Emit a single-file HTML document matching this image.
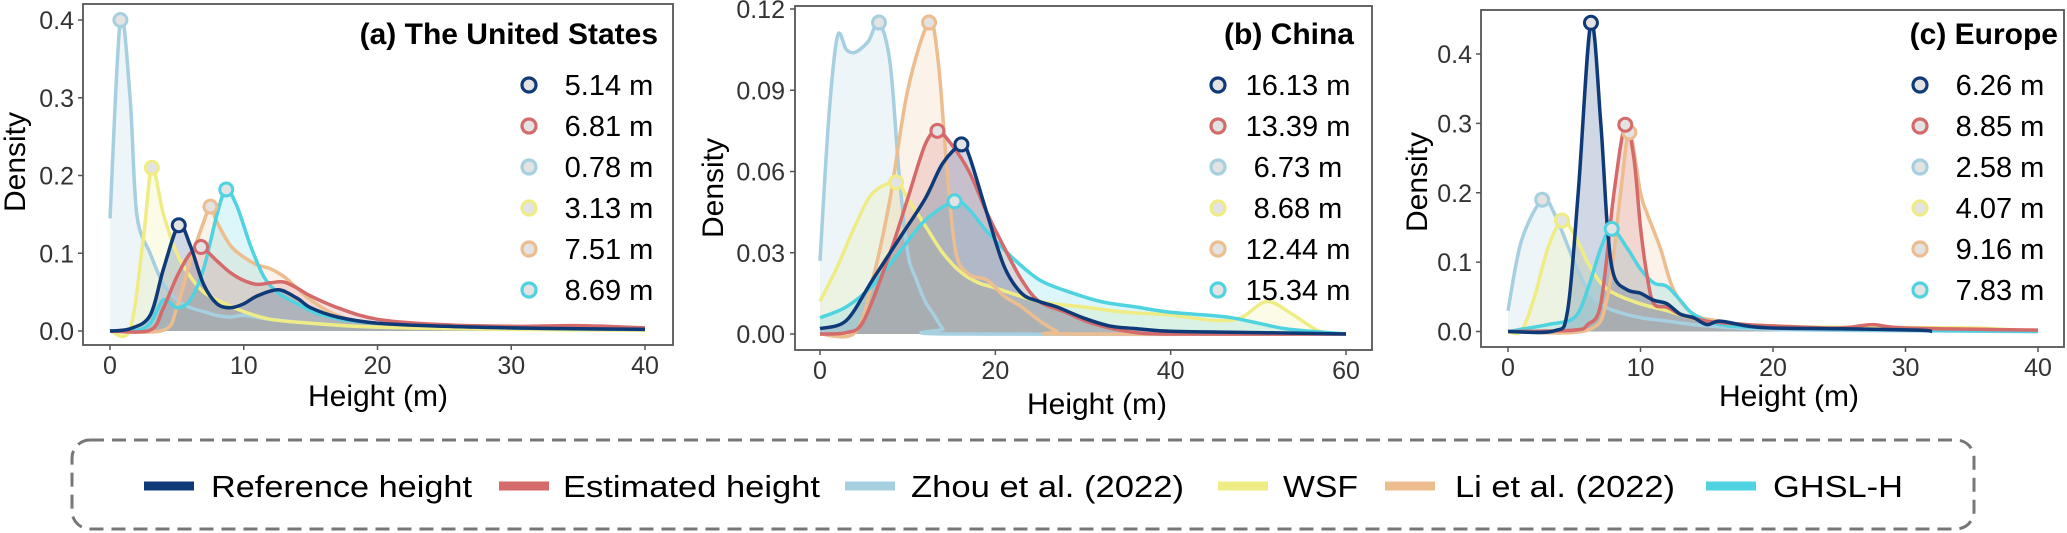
<!DOCTYPE html>
<html><head><meta charset="utf-8"><style>
html,body{margin:0;padding:0;background:#fff;}
svg{display:block;font-family:"Liberation Sans",Arial,sans-serif;}
</style></head><body>
<svg id="chart" width="2067" height="533" viewBox="0 0 2067 533" xmlns="http://www.w3.org/2000/svg"></svg>
<script>
// ---------- data ----------
const seriesNames = ["Reference height","Estimated height","Zhou et al. (2022)","WSF","Li et al. (2022)","GHSL-H"];
const seriesKeys = ["ref","est","zhou","wsf","li","ghsl"];
const seriesColors = ["#0f3a78","#d46a6a","#a6cfe0","#efec86","#ecbd8f","#4fd3e0"];

// Panel a: United States
const usX = {
  ref:[0,1.5,3,4,5.14,6,7,8,9,10,11,12.6,14,15,17,20,25,30,35,40],
  est:[0,3,4,5,6,6.81,8,9,10,11,12,13,14,15,17,20,25,30,35,40],
  zhou:[0,0.78,1.5,2,3,4,5,6,7,8,9,10,12,15,20,30,40],
  wsf:[0,1.5,2.5,3.13,4,5,6,7,8,10,12,15,20,30,40],
  li:[0,4,5,6,7,7.51,8,9,10,11,12,13,14,15,17,20,30,40],
  ghsl:[0,2,3,4,5,6,7,8,8.69,9.5,10.5,11.5,12.5,14,16,20,30,40]
};
const usY = {
  ref:[0,0.003,0.02,0.08,0.136,0.11,0.06,0.035,0.03,0.035,0.045,0.053,0.042,0.03,0.018,0.01,0.006,0.004,0.003,0.002],
  est:[0,0.001,0.03,0.07,0.1,0.108,0.09,0.075,0.065,0.06,0.062,0.063,0.055,0.045,0.03,0.015,0.008,0.006,0.007,0.004],
  zhou:[0.145,0.4,0.3,0.15,0.1,0.06,0.04,0.03,0.025,0.02,0.018,0.02,0.015,0.01,0.005,0.003,0.002],
  wsf:[0,0.002,0.12,0.21,0.15,0.1,0.07,0.05,0.04,0.025,0.015,0.01,0.005,0.002,0.001],
  li:[0,0.001,0.03,0.09,0.14,0.16,0.14,0.11,0.095,0.085,0.08,0.07,0.055,0.04,0.02,0.01,0.004,0.002],
  ghsl:[0,0.001,0.01,0.04,0.03,0.04,0.08,0.15,0.182,0.16,0.11,0.07,0.05,0.035,0.02,0.01,0.004,0.002]
};
const usPeakX = [5.14,6.81,0.78,3.13,7.51,8.69];
const usPeakY = [0.136,0.108,0.4,0.21,0.16,0.182];
const usLabels = ["5.14 m","6.81 m","0.78 m","3.13 m","7.51 m","8.69 m"];
const usXTicks = [0,10,20,30,40];
const usYTicks = [0,0.1,0.2,0.3,0.4];
const usYTickLabels = ["0.0","0.1","0.2","0.3","0.4"];

// Panel b: China
const cnX = {
  ref:[0,3,6,9,12,14,16.13,17,19,21,23,25,27,30,33,36,40,50,60],
  est:[0,3,5,8,10,12,13.39,15,17,19,21,23,25,28,31,35,40,60],
  zhou:[0,1,2,3,4,5.5,6.73,8,9,10,11,12,13,14,15,60],
  wsf:[0,2,4,6,8.68,10,12,14,16,18,20,25,30,35,40,45,48,51,54,57,60],
  li:[0,4,6,8,10,12.44,13.5,14.5,15.5,17,19,21,23,25,27,28,60],
  ghsl:[0,3,6,9,12,15.34,17,19,22,25,28,32,36,40,44,47,50,53,56,60]
};
const cnY = {
  ref:[0.002,0.005,0.02,0.035,0.05,0.063,0.07,0.066,0.045,0.025,0.015,0.012,0.01,0.006,0.003,0.002,0.001,0.0005,0],
  est:[0,0.0005,0.005,0.03,0.05,0.07,0.075,0.07,0.06,0.045,0.032,0.02,0.012,0.008,0.004,0.001,0,0],
  zhou:[0.027,0.08,0.11,0.105,0.104,0.108,0.115,0.1,0.06,0.03,0.02,0.012,0.007,0.002,0,0],
  wsf:[0.012,0.025,0.04,0.052,0.056,0.05,0.04,0.03,0.023,0.019,0.017,0.012,0.01,0.008,0.007,0.005,0.006,0.012,0.007,0.001,0],
  li:[0,0.0005,0.02,0.05,0.09,0.115,0.1,0.06,0.03,0.022,0.02,0.014,0.01,0.005,0.001,0,0],
  ghsl:[0.006,0.01,0.018,0.03,0.042,0.049,0.046,0.038,0.028,0.02,0.016,0.012,0.01,0.008,0.007,0.006,0.004,0.002,0.001,0]
};
const cnPeakX = [16.13,13.39,6.73,8.68,12.44,15.34];
const cnPeakY = [0.07,0.075,0.115,0.056,0.115,0.049];
const cnLabels = ["16.13 m","13.39 m","6.73 m","8.68 m","12.44 m","15.34 m"];
const cnXTicks = [0,20,40,60];
const cnYTicks = [0,0.03,0.06,0.09,0.12];
const cnYTickLabels = ["0.00","0.03","0.06","0.09","0.12"];

// Panel c: Europe
const euX = {
  ref:[0,3.5,4.5,5.3,6.26,7,7.5,8,9,10,11,12,13,14,15,16,18,20,25,31,32],
  est:[0,5,6,7,8,8.85,9.5,10,10.5,11,12,13,15,18,20,25,27.5,30,40],
  zhou:[0,1,2.58,3.5,5,6,7,8,10,12,15,20,30,40],
  wsf:[0,1,2,3,4.07,5,6,7,8,10,12,15,20,25,35,40],
  li:[0,6,7.5,8.5,9.16,10,10.5,11.5,12.5,14,16,20,30,40],
  ghsl:[0,3,5,6,7,7.83,9,10,11,12,13,14,16,20,30,40]
};
const euY = {
  ref:[0,0.001,0.03,0.2,0.445,0.3,0.15,0.08,0.06,0.055,0.045,0.04,0.025,0.02,0.01,0.015,0.008,0.005,0.004,0.002,0],
  est:[0,0.002,0.01,0.04,0.2,0.298,0.25,0.15,0.08,0.04,0.035,0.025,0.015,0.01,0.008,0.005,0.01,0.005,0.002],
  zhou:[0.03,0.13,0.19,0.17,0.1,0.06,0.04,0.03,0.02,0.015,0.008,0.003,0.001,0],
  wsf:[0,0.001,0.05,0.12,0.16,0.14,0.1,0.07,0.055,0.04,0.03,0.015,0.008,0.006,0.005,0],
  li:[0,0.002,0.05,0.2,0.287,0.2,0.17,0.12,0.06,0.025,0.015,0.006,0.003,0],
  ghsl:[0,0.01,0.02,0.06,0.12,0.148,0.12,0.09,0.07,0.065,0.045,0.025,0.01,0.005,0.002,0]
};
const euPeakX = [6.26,8.85,2.58,4.07,9.16,7.83];
const euPeakY = [0.445,0.298,0.19,0.16,0.287,0.148];
const euLabels = ["6.26 m","8.85 m","2.58 m","4.07 m","9.16 m","7.83 m"];
const euXTicks = [0,10,20,30,40];
const euYTicks = [0,0.1,0.2,0.3,0.4];
const euYTickLabels = ["0.0","0.1","0.2","0.3","0.4"];

// ---------- drawing ----------
const NS = "http://www.w3.org/2000/svg";
const svg = document.getElementById("chart");
function mk(tag, attrs, parent){
  const e = document.createElementNS(NS, tag);
  for (const k in attrs) e.setAttribute(k, attrs[k]);
  (parent||svg).appendChild(e);
  return e;
}
function smoothPath(pts){
  let d = "M" + pts[0][0].toFixed(1) + "," + pts[0][1].toFixed(1);
  for (let i=0;i<pts.length-1;i++){
    const p0 = pts[Math.max(0,i-1)], p1 = pts[i], p2 = pts[i+1], p3 = pts[Math.min(pts.length-1,i+2)];
    const t = 0.16;
    const c1x = p1[0] + (p2[0]-p0[0])*t, c1y = p1[1] + (p2[1]-p0[1])*t;
    const c2x = p2[0] - (p3[0]-p1[0])*t, c2y = p2[1] - (p3[1]-p1[1])*t;
    d += " C" + c1x.toFixed(1)+","+c1y.toFixed(1)+" "+c2x.toFixed(1)+","+c2y.toFixed(1)+" "+p2[0].toFixed(1)+","+p2[1].toFixed(1);
  }
  return d;
}

const panels = [
  {key:"us", title:"(a) The United States", X:usX, Y:usY, peakX:usPeakX, peakY:usPeakY, labels:usLabels,
   xTicks:usXTicks, yTicks:usYTicks, yTickLabels:usYTickLabels,
   frame:[83,4,673,345], xMin:0, xMax:40, px0:110, px1:645, yMax:0.4, py0:331, py1:20,
   titleRight:658, legCircleX:529, legTextX:609, yLabelRight:74, yTitleX:15, yTitleY:162, xTitleX:378, xTitleY:406},
  {key:"cn", title:"(b) China", X:cnX, Y:cnY, peakX:cnPeakX, peakY:cnPeakY, labels:cnLabels,
   xTicks:cnXTicks, yTicks:cnYTicks, yTickLabels:cnYTickLabels,
   frame:[795,6,1372,350], xMin:0, xMax:60, px0:820, px1:1346, yMax:0.12, py0:334, py1:9,
   titleRight:1354, legCircleX:1218, legTextX:1298, yLabelRight:785, yTitleX:713, yTitleY:188, xTitleX:1097, xTitleY:414},
  {key:"eu", title:"(c) Europe", X:euX, Y:euY, peakX:euPeakX, peakY:euPeakY, labels:euLabels,
   xTicks:euXTicks, yTicks:euYTicks, yTickLabels:euYTickLabels,
   frame:[1481,10,2064,347], xMin:0, xMax:40, px0:1508, px1:2038, yMax:0.4, py0:331.5, py1:54,
   titleRight:2058, legCircleX:1920, legTextX:2000, yLabelRight:1472, yTitleX:1417, yTitleY:182, xTitleX:1789, xTitleY:406}
];
const drawOrder = [2,3,4,5,1,0];
const rowY = [85,126,167,208,249,290];

panels.forEach(p=>{
  const g = mk("g",{});
  
  
  const sx = v => p.px0 + (v - p.xMin)/(p.xMax - p.xMin)*(p.px1 - p.px0);
  const sy = v => p.py0 - v/p.yMax*(p.py0 - p.py1);
  const [fx0,fy0,fx1,fy1] = p.frame;
  // fills
  drawOrder.forEach(i=>{
    const k = seriesKeys[i];
    const pts = p.X[k].map((x,j)=>[sx(x), sy(p.Y[k][j])]);
    const d = smoothPath(pts) + " L"+pts[pts.length-1][0].toFixed(1)+","+sy(0).toFixed(1)+" L"+pts[0][0].toFixed(1)+","+sy(0).toFixed(1)+" Z";
    const f = mk("path",{d:d, fill:seriesColors[i], "fill-opacity":"0.2", stroke:"none"}, g);
    
    
  });
  // lines
  drawOrder.forEach(i=>{
    const k = seriesKeys[i];
    const pts = p.X[k].map((x,j)=>[sx(x), sy(p.Y[k][j])]);
    const l = mk("path",{d:smoothPath(pts), fill:"none", stroke:seriesColors[i], "stroke-width":"3.5", "stroke-linejoin":"round"}, g);
    
    
  });
  // peak markers
  drawOrder.forEach(i=>{
    const c = mk("circle",{cx:sx(p.peakX[i]), cy:sy(p.peakY[i]), r:6.5, fill:"#e3e3e3", stroke:seriesColors[i], "stroke-width":"3"}, g);
    
    
  });
  // frame
  const fr = mk("rect",{x:fx0, y:fy0, width:fx1-fx0, height:fy1-fy0, fill:"none", stroke:"#555", "stroke-width":"1.8"}, g);
  
  
  // y ticks
  p.yTicks.forEach((v,j)=>{
    mk("line",{x1:fx0-5, x2:fx0, y1:sy(v), y2:sy(v), stroke:"#555", "stroke-width":"1.5"}, g);
    const t = mk("text",{x:p.yLabelRight, y:sy(v)+9, "text-anchor":"end", "font-size":"25", fill:"#333"}, g);
    t.textContent = p.yTickLabels[j];
    
    
  });
  // x ticks
  p.xTicks.forEach(v=>{
    mk("line",{x1:sx(v), x2:sx(v), y1:fy1, y2:fy1+5, stroke:"#555", "stroke-width":"1.5"}, g);
    const t = mk("text",{x:sx(v), y:fy1+29, "text-anchor":"middle", "font-size":"25", fill:"#333"}, g);
    t.textContent = String(v);
    
    
  });
  // axis titles
  const yt = mk("text",{x:0, y:0, "text-anchor":"middle", "font-size":"30", fill:"#000", transform:"translate("+(p.yTitleX+10)+","+p.yTitleY+") rotate(-90)"}, g);
  yt.textContent = "Density";
  
  
  const xt = mk("text",{x:p.xTitleX, y:p.xTitleY, "text-anchor":"middle", "font-size":"30", fill:"#000"}, g);
  xt.textContent = "Height (m)";
  
  
  // title
  const tt = mk("text",{x:p.titleRight, y:44, "text-anchor":"end", "font-size":"30", "font-weight":"bold", fill:"#000"}, g);
  tt.textContent = p.title;
  
  
  // inner legend
  seriesKeys.forEach((k,i)=>{
    const c = mk("circle",{cx:p.legCircleX, cy:rowY[i], r:7, fill:"#e3e3e3", stroke:seriesColors[i], "stroke-width":"3.2"}, g);
    
    
    const t = mk("text",{x:p.legTextX, y:rowY[i]+10, "text-anchor":"middle", "font-size":"29", fill:"#000"}, g);
    t.textContent = p.labels[i];
    
    
  });
});

// bottom legend
const lg = mk("g",{});


const box = mk("rect",{x:72, y:440, width:1902, height:89, rx:18, ry:18, fill:"none", stroke:"#777", "stroke-width":"3", "stroke-dasharray":"14 8"}, lg);


const swX = [144,499,845,1218,1385,1706];
const txX = [211,563,911,1283,1455,1773];
const txW = [261,257,273,75,220,130];
seriesNames.forEach((n,i)=>{
  const s = mk("line",{x1:swX[i], x2:swX[i]+50, y1:486, y2:486, stroke:seriesColors[i], "stroke-width":"9"}, lg);
  
  
  const t = mk("text",{x:txX[i], y:497, "font-size":"31", fill:"#000", textLength:txW[i], lengthAdjust:"spacingAndGlyphs"}, lg);
  t.textContent = n;
  
  
});
</script>
</body></html>
